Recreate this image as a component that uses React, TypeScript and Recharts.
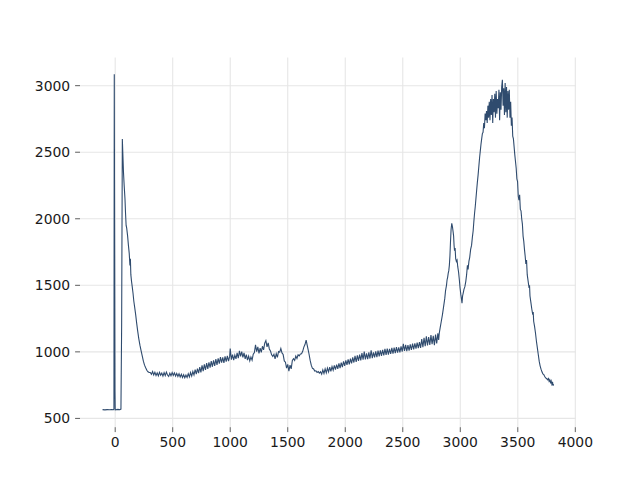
import { LineChart, Line, XAxis, YAxis, CartesianGrid } from 'recharts'

// Spectrum-like trace, kept as [x, y] pairs per stretch.

const baseline: [number, number][] = [
  [-110, 566], [-90, 564], [-70, 566], [-50, 565], [-30, 567], [-15, 565],
  [-11, 570], [-8, 3085], [-5, 1800], [-2, 700], [0, 565],
  [10, 566], [25, 568], [40, 565], [50, 570], [56, 1200], [62, 2600],
]

const decay: [number, number][] = [
  [66, 2500], [72, 2350], [78, 2250], [85, 2150], [90, 2040], [95, 1950],
  [100, 1930], [108, 1870], [115, 1800], [122, 1740], [128, 1650], [132, 1700],
  [136, 1580], [142, 1530], [148, 1490], [155, 1440], [162, 1380], [170, 1330],
  [178, 1280], [186, 1220], [195, 1160], [205, 1100], [215, 1050], [225, 1010],
  [235, 970], [245, 930], [255, 900], [265, 880], [275, 862], [285, 850], [295, 845],
]

const trough: [number, number][] = [
  [305, 845], [315, 832], [325, 852], [335, 826], [345, 846], [355, 822],
  [365, 842], [375, 820], [385, 846], [395, 824], [405, 840], [415, 818],
  [425, 844], [435, 822], [445, 848], [455, 826], [465, 815], [475, 840],
  [485, 820], [495, 845], [505, 824], [515, 842], [525, 818], [535, 838],
  [545, 815], [555, 836], [565, 812], [575, 832], [585, 808], [595, 828],
  [605, 806], [615, 826], [625, 808], [635, 836], [645, 812], [655, 845],
  [665, 818], [675, 852], [685, 826], [695, 866], [705, 832], [715, 874],
  [725, 840], [735, 886], [745, 846], [755, 898], [765, 856], [775, 906],
  [785, 864], [795, 916], [805, 872], [815, 922], [825, 882], [835, 930],
  [845, 888], [855, 936], [865, 895], [875, 946], [885, 902], [895, 952],
  [905, 912], [915, 960], [925, 920], [935, 958], [945, 918], [955, 966],
  [965, 926], [975, 970], [985, 930], [995, 966],
]

const bumps: [number, number][] = [
  [1000, 1025], [1010, 942], [1020, 980], [1030, 938], [1040, 976], [1050, 948],
  [1060, 992], [1070, 952], [1080, 1008], [1090, 966], [1100, 1002], [1110, 958],
  [1120, 992], [1130, 948], [1140, 980], [1150, 938], [1160, 968], [1170, 932],
  [1180, 962], [1190, 938], [1200, 982], [1210, 995], [1220, 1052], [1230, 1002],
  [1240, 1038], [1250, 988], [1260, 1028], [1270, 996], [1280, 1042], [1290, 1015],
  [1300, 1066], [1310, 1085], [1320, 1038], [1330, 1068], [1340, 1022], [1350, 1006],
  [1360, 978], [1370, 966], [1380, 982], [1390, 948], [1400, 986], [1410, 958],
  [1420, 1002], [1430, 998], [1440, 1026], [1450, 992], [1460, 980], [1470, 932],
  [1480, 922], [1490, 878], [1500, 906], [1510, 855], [1520, 900], [1530, 872],
  [1540, 936], [1550, 948], [1560, 936], [1570, 968], [1580, 950], [1590, 978],
  [1600, 970], [1610, 984], [1620, 986], [1630, 1004], [1640, 1036], [1650, 1055],
  [1660, 1088], [1668, 1055], [1675, 1026], [1685, 984], [1695, 936], [1705, 898],
  [1715, 876], [1725, 872], [1735, 856], [1745, 858], [1755, 846], [1765, 852],
  [1775, 840], [1785, 850],
]

const plateau: [number, number][] = [
  [1795, 832], [1805, 864], [1815, 838], [1825, 872], [1835, 842], [1845, 878],
  [1855, 850], [1865, 886], [1875, 854], [1885, 890], [1895, 862], [1905, 898],
  [1915, 866], [1925, 904], [1935, 872], [1945, 914], [1955, 878], [1965, 920],
  [1975, 886], [1985, 928], [1995, 894], [2005, 936], [2015, 902], [2025, 944],
  [2035, 906], [2045, 950], [2055, 914], [2065, 958], [2075, 920], [2085, 970],
  [2095, 924], [2105, 974], [2115, 932], [2125, 980], [2135, 936], [2145, 990],
  [2155, 942], [2165, 1002], [2175, 944], [2185, 988], [2195, 946], [2205, 996],
  [2215, 950], [2225, 1012], [2235, 952], [2245, 996], [2255, 958], [2265, 1004],
  [2275, 960], [2285, 1010], [2295, 966], [2305, 1012], [2315, 970], [2325, 1016],
  [2335, 974], [2345, 1022], [2355, 978], [2365, 1024], [2375, 980], [2385, 1022],
  [2395, 984], [2405, 1030], [2415, 986], [2425, 1032], [2435, 990], [2445, 1036],
  [2455, 994], [2465, 1034], [2475, 996], [2485, 1042], [2495, 1002], [2505, 1060],
  [2515, 1008], [2525, 1052], [2535, 1006], [2545, 1050], [2555, 1010], [2565, 1056],
  [2575, 1014], [2585, 1062], [2595, 1018], [2605, 1064], [2615, 1024], [2625, 1070],
  [2635, 1028], [2645, 1074], [2655, 1030], [2665, 1096], [2675, 1036], [2685, 1106],
  [2695, 1042], [2705, 1116], [2715, 1048], [2725, 1112], [2735, 1052], [2745, 1126],
  [2755, 1058], [2765, 1120], [2775, 1050], [2785, 1130], [2795, 1064], [2805, 1140],
  [2812, 1090],
]

const shoulder: [number, number][] = [
  [2818, 1145], [2825, 1180], [2835, 1230], [2845, 1280], [2855, 1340], [2865, 1400],
  [2872, 1460], [2880, 1500], [2885, 1540], [2890, 1560], [2895, 1590], [2900, 1610],
  [2905, 1650], [2910, 1720], [2915, 1830], [2920, 1920], [2926, 1965], [2932, 1940],
  [2938, 1900], [2942, 1870], [2946, 1800], [2950, 1760], [2955, 1780], [2960, 1700],
  [2966, 1680], [2972, 1690], [2978, 1640], [2985, 1600], [2992, 1540], [2998, 1480],
  [3005, 1430], [3010, 1400], [3015, 1365], [3020, 1420], [3025, 1440], [3032, 1470],
  [3040, 1490], [3048, 1530], [3055, 1580], [3062, 1650], [3068, 1620], [3075, 1680],
  [3082, 1710], [3090, 1770], [3098, 1800], [3105, 1860], [3112, 1910],
]

const mainPeak: [number, number][] = [
  [3118, 1980], [3124, 2040], [3130, 2090], [3136, 2150], [3142, 2210], [3148, 2270],
  [3155, 2330], [3162, 2400], [3168, 2460], [3174, 2510], [3180, 2560], [3186, 2600],
  [3192, 2640], [3198, 2650], [3204, 2720], [3210, 2680], [3216, 2790], [3222, 2740],
  [3228, 2810], [3234, 2720], [3240, 2850], [3246, 2760], [3252, 2880], [3258, 2740],
  [3264, 2900], [3270, 2780], [3276, 2930], [3282, 2720], [3288, 2900], [3294, 2800],
  [3300, 2940], [3306, 2760], [3312, 2960], [3318, 2790], [3324, 2900], [3330, 2830],
  [3336, 2970], [3342, 2740], [3348, 2950], [3354, 2820], [3360, 2990], [3366, 3045],
  [3372, 2850], [3378, 2980], [3384, 2780], [3390, 3020], [3396, 2800], [3402, 2990],
  [3408, 2760], [3414, 2960], [3420, 2820], [3426, 2970], [3432, 2760], [3438, 2880],
  [3444, 2700], [3450, 2760], [3456, 2620], [3462, 2600], [3468, 2540], [3474, 2480],
  [3480, 2430], [3486, 2380], [3492, 2300], [3498, 2280], [3504, 2170], [3510, 2140],
  [3516, 2180], [3522, 2070], [3528, 2060], [3534, 2000], [3540, 1960], [3546, 1870],
]

const tail: [number, number][] = [
  [3552, 1830], [3558, 1770], [3564, 1720], [3570, 1660], [3576, 1690], [3582, 1580],
  [3590, 1530], [3598, 1480], [3602, 1500], [3606, 1420], [3614, 1370], [3622, 1320],
  [3630, 1280], [3634, 1300], [3638, 1230], [3646, 1190], [3654, 1140], [3662, 1080],
  [3670, 1030], [3678, 980], [3686, 930], [3694, 895], [3702, 870], [3710, 850],
  [3718, 835], [3726, 830], [3734, 815], [3742, 805], [3750, 800], [3758, 790],
  [3766, 800], [3772, 780], [3778, 790], [3784, 770], [3790, 782], [3796, 758],
  [3802, 775], [3806, 745], [3810, 760],
]

const xTicks = [0, 500, 1000, 1500, 2000, 2500, 3000, 3500, 4000]
const yTicks = [500, 1000, 1500, 2000, 2500, 3000]

const data = [...baseline, ...decay, ...trough, ...bumps, ...plateau, ...shoulder, ...mainPeak, ...tail].map(
  ([x, y]) => ({ x, y })
)

const tickStyle = { fontSize: 13.9, fill: '#1a1a1a', fontFamily: 'DejaVu Sans' }

export default function App() {
  return (
    <div style={{ position: 'absolute', left: 0, top: 0, width: 640, height: 480, background: '#fff' }}>
      <LineChart width={640} height={480} data={data} margin={{ top: 57.6, right: 64, bottom: 0, left: 0 }}>
        <CartesianGrid stroke="#e6e6e6" strokeWidth={1.1} horizontalValues={yTicks} verticalValues={xTicks} />
        <XAxis
          dataKey="x"
          type="number"
          domain={[-306, 4006]}
          ticks={xTicks}
          allowDataOverflow
          height={52.8}
          axisLine={false}
          tickSize={4.9}
          tickMargin={4.9}
          tickLine={{ stroke: '#333', strokeWidth: 0.8 }}
          tick={tickStyle}
        />
        <YAxis
          type="number"
          domain={[434, 3211]}
          ticks={yTicks}
          allowDataOverflow
          width={80}
          axisLine={false}
          tickSize={4.9}
          tickMargin={4.9}
          tickLine={{ stroke: '#333', strokeWidth: 0.8 }}
          tick={tickStyle}
        />
        <Line
          type="linear"
          dataKey="y"
          stroke="#2f4b6e"
          strokeWidth={1.1}
          dot={false}
          isAnimationActive={false}
        />
      </LineChart>
    </div>
  )
}
